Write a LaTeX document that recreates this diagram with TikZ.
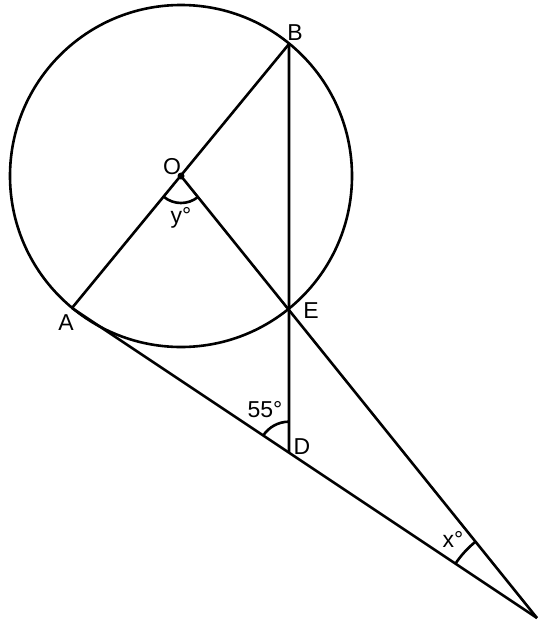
\documentclass[tikz,border=0pt]{standalone}
\usepackage{fontspec}
\setmainfont{Liberation Sans}
\usetikzlibrary{angles,calc,intersections}
\begin{document}
\begin{tikzpicture}[x=1pt,y=-1pt,line width=2.6pt,
  lab/.style={font=\fontsize{23}{23}\selectfont,inner sep=0pt},
  ang/.style={draw,line width=2.6pt}]
\useasboundingbox (0,0) rectangle (545,629);
\coordinate (O) at (181,176);
\coordinate (A) at (72,308);
\coordinate (B) at (289,44);
\coordinate (E) at (289,310);
\coordinate (F) at (537,618);
\coordinate (D) at ($(A)!0.4667!(F)$);
\draw (O) circle[radius=171pt];
\draw (A) -- (B);
\draw (O) -- (F);
\draw (B) -- (D);
\draw (A) -- (F);
\fill (O) circle[radius=3.5pt];
\pic[ang,angle radius=27pt] {angle=A--O--E};
\pic[ang,angle radius=31pt] {angle=B--D--A};
\pic[ang,angle radius=98pt] {angle=E--F--A};
\node[lab] (lB) at (295,33) {B};
\node[lab] (lO) at (172,167) {O};
\node[lab] (ly) at (181,218) {y°};
\node[lab] (lA) at (66,323) {A};
\node[lab] (lE) at (311,311) {E};
\node[lab] (l55) at (265,410) {55°};
\node[lab] (lD) at (302,447) {D};
\node[lab] (lx) at (453,539) {x°};
\end{tikzpicture}
\end{document}
